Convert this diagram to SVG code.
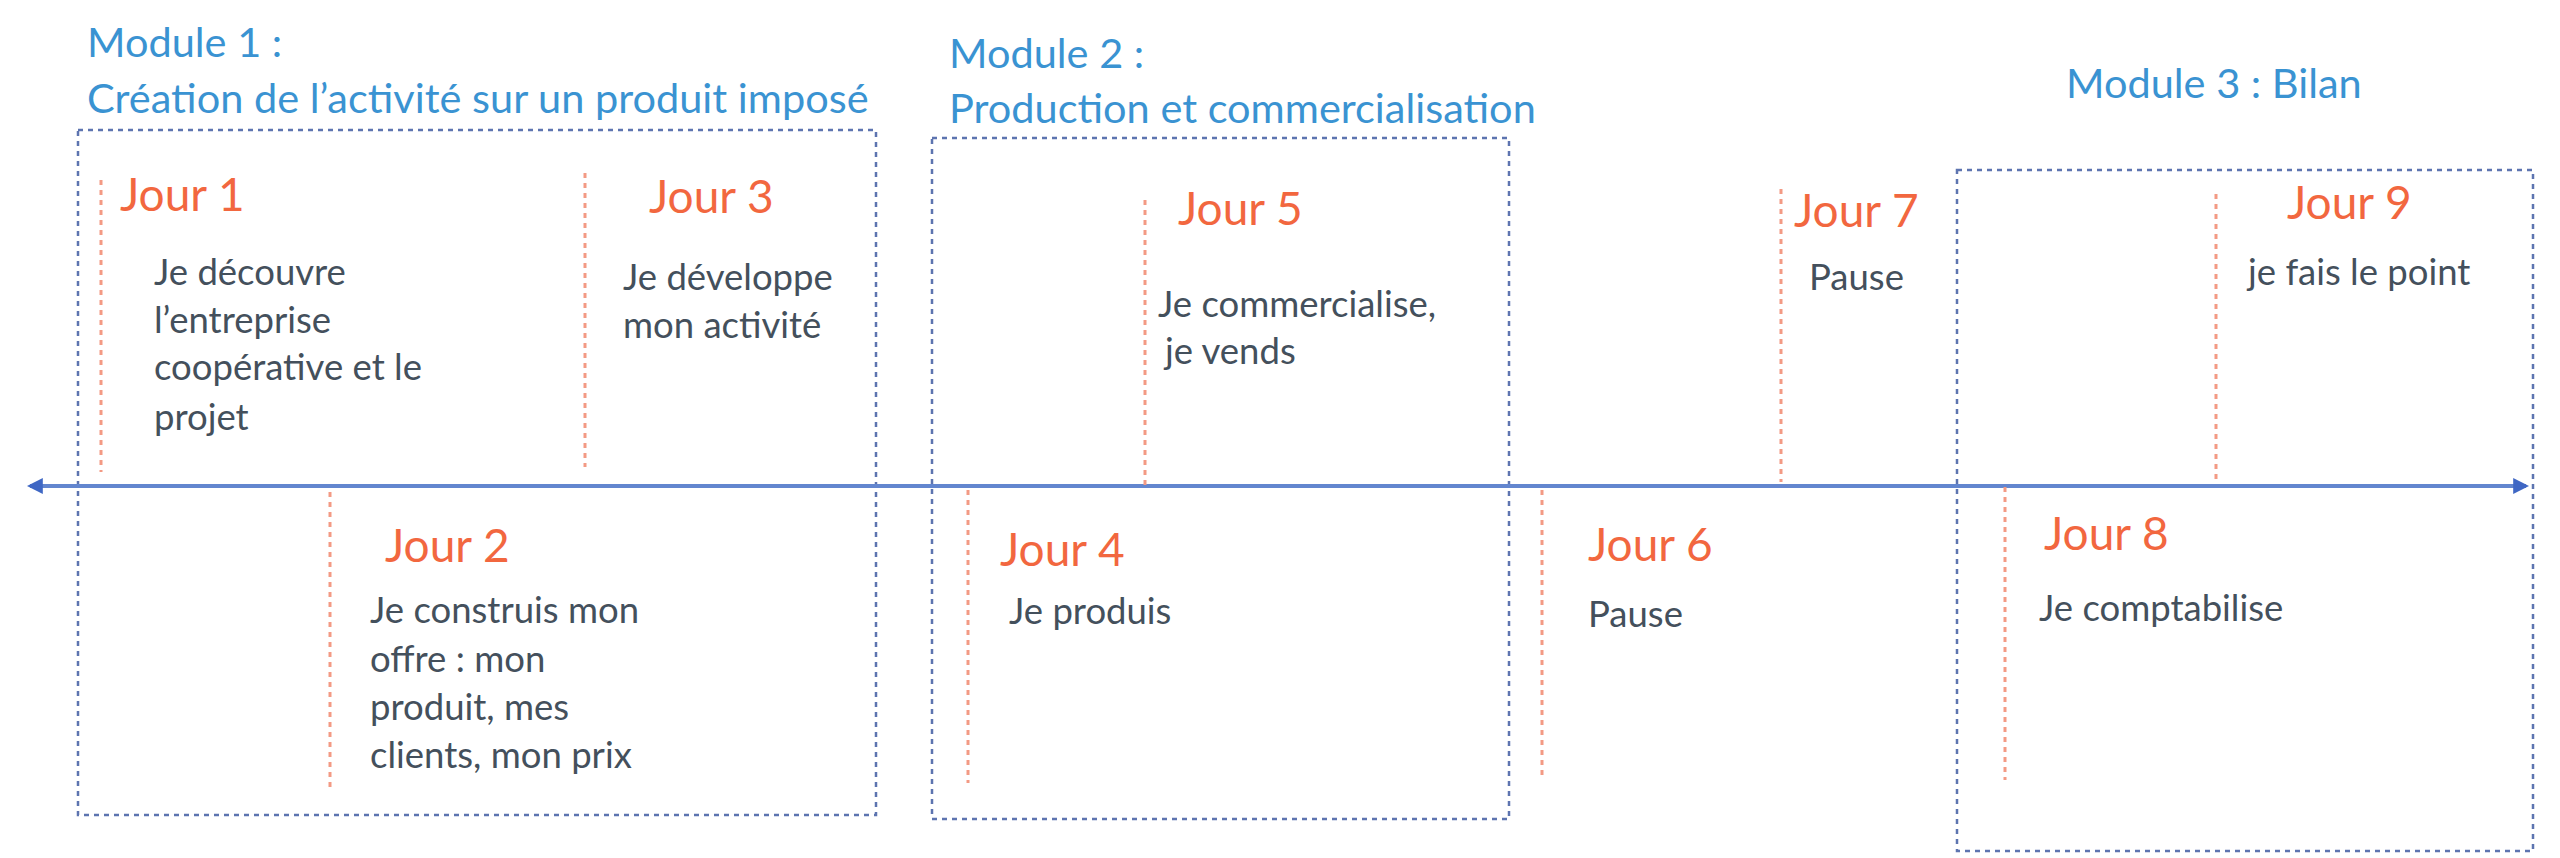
<svg xmlns="http://www.w3.org/2000/svg" width="2560" height="858" viewBox="0 0 2560 858">
<defs>
<style>
text{font-family:Lato,"Liberation Sans",sans-serif}
.mod{font-size:41.5px;fill:#3a93d2}
.jour{font-size:46px;fill:#f2673f}
.body{font-size:36.5px;fill:#44505c}
.box{fill:none;stroke:#5d74b0;stroke-width:2.5;stroke-dasharray:5 5}
.tick{stroke:#f39a84;stroke-width:3;stroke-dasharray:5 5}
.axis{stroke:#6386cf;stroke-width:4}
</style>
<marker id="arr" viewBox="0 0 10 10" refX="8" refY="5" markerWidth="4" markerHeight="4" orient="auto-start-reverse" markerUnits="strokeWidth">
<path d="M0,0 L10,5 L0,10 z" fill="#3f67c4"/>
</marker>
</defs>
<rect width="2560" height="858" fill="#ffffff"/>

<g id="module1">
<text class="mod" x="87" y="57">Module 1 :</text>
<text class="mod" x="87" y="113">Création de l’activité sur un produit imposé</text>
<rect class="box" x="78" y="130" width="798" height="685"/>
</g>
<g id="module2">
<text class="mod" x="949" y="68">Module 2 :</text>
<text class="mod" x="949" y="123">Production et commercialisation</text>
<rect class="box" x="932" y="138" width="577" height="681"/>
</g>
<g id="module3">
<text class="mod" x="2066" y="98">Module 3 : Bilan</text>
<rect class="box" x="1957" y="170" width="576" height="681"/>
</g>

<g id="connectors">
<line class="axis" x1="30" y1="486" x2="2526" y2="486" marker-start="url(#arr)" marker-end="url(#arr)"/>
<line class="tick" x1="101" y1="180" x2="101" y2="472"/>
<line class="tick" x1="585" y1="173" x2="585" y2="467"/>
<line class="tick" x1="330" y1="492" x2="330" y2="787"/>
<line class="tick" x1="1145" y1="200" x2="1145" y2="487"/>
<line class="tick" x1="968" y1="490" x2="968" y2="783"/>
<line class="tick" x1="1542" y1="490" x2="1542" y2="780"/>
<line class="tick" x1="1781" y1="189" x2="1781" y2="482"/>
<line class="tick" x1="2216" y1="194" x2="2216" y2="484"/>
<line class="tick" x1="2005" y1="487" x2="2005" y2="780"/>
</g>

<g id="jour1">
<text class="jour" x="120" y="211">Jour 1</text>
<text class="body" x="154" y="285">Je découvre</text>
<text class="body" x="154" y="333">l’entreprise</text>
<text class="body" x="154" y="380">coopérative et le</text>
<text class="body" x="154" y="430">projet</text>
</g>
<g id="jour2">
<text class="jour" x="385" y="562">Jour 2</text>
<text class="body" x="370" y="623">Je construis mon</text>
<text class="body" x="370" y="672">offre : mon</text>
<text class="body" x="370" y="720">produit, mes</text>
<text class="body" x="370" y="768">clients, mon prix</text>
</g>
<g id="jour3">
<text class="jour" x="649" y="213">Jour 3</text>
<text class="body" x="623" y="290">Je développe</text>
<text class="body" x="623" y="338">mon activité</text>
</g>
<g id="jour4">
<text class="jour" x="1000" y="566">Jour 4</text>
<text class="body" x="1009" y="624">Je produis</text>
</g>
<g id="jour5">
<text class="jour" x="1178" y="225">Jour 5</text>
<text class="body" x="1158" y="317">Je commercialise,</text>
<text class="body" x="1165" y="364">je vends</text>
</g>
<g id="jour6">
<text class="jour" x="1588" y="561">Jour 6</text>
<text class="body" x="1588" y="627">Pause</text>
</g>
<g id="jour7">
<text class="jour" x="1794" y="227">Jour 7</text>
<text class="body" x="1809" y="290">Pause</text>
</g>
<g id="jour8">
<text class="jour" x="2044" y="550">Jour 8</text>
<text class="body" x="2039" y="621">Je comptabilise</text>
</g>
<g id="jour9">
<text class="jour" x="2287" y="219">Jour 9</text>
<text class="body" x="2248" y="285">je fais le point</text>
</g>
</svg>
